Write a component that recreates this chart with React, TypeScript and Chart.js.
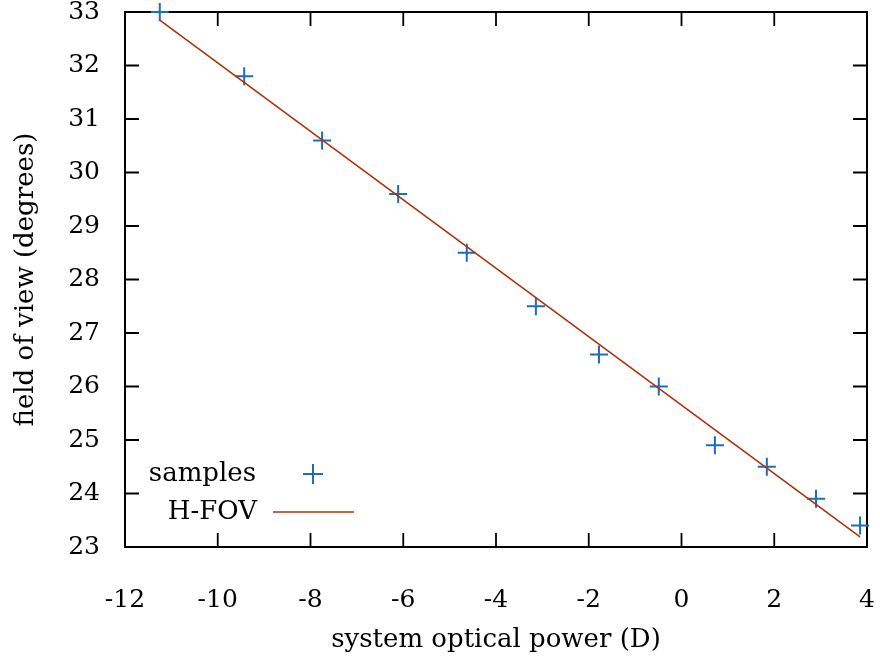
import React, { useEffect, useRef } from "react";
import { Chart, registerables } from "chart.js";

Chart.register(...registerables);

// ---- data ----
const sampleX = [-11.25, -9.43, -7.75, -6.11, -4.63, -3.14, -1.78, -0.49, 0.72, 1.84, 2.9, 3.85];
const sampleY = [33.0, 31.8, 30.6, 29.6, 28.5, 27.5, 26.6, 26.0, 24.9, 24.5, 23.9, 23.4];
const fitX = [-11.25, 3.85];
const fitY = [32.85, 23.19];
const seriesNames = ["samples", "H-FOV"];
const xTitle = "system optical power (D)";
const yTitle = "field of view (degrees)";
const xMin = -12;
const xMax = 4;
const xStep = 2;
const yMin = 23;
const yMax = 33;
const yStep = 1;

const FONT = "'DejaVu Serif', serif";
const FS = 25;
const TFS = 26;
const BLUE = "#1f6cb8";
const RED = "#b0300c";

const framePlugin = {
  id: "frame",
  beforeDatasetsDraw(chart: any) {
    const { ctx, chartArea: a, scales } = chart;
    ctx.save();
    ctx.strokeStyle = "#000";
    ctx.lineWidth = 1.8;
    const tl = 14;
    ctx.beginPath();
    scales.x.ticks.forEach((t: any) => {
      const px = scales.x.getPixelForValue(t.value);
      ctx.moveTo(px, a.bottom);
      ctx.lineTo(px, a.bottom - tl);
      ctx.moveTo(px, a.top);
      ctx.lineTo(px, a.top + tl);
    });
    scales.y.ticks.forEach((t: any) => {
      const py = scales.y.getPixelForValue(t.value);
      ctx.moveTo(a.left, py);
      ctx.lineTo(a.left + tl, py);
      ctx.moveTo(a.right, py);
      ctx.lineTo(a.right - tl, py);
    });
    ctx.stroke();
    ctx.lineWidth = 2;
    ctx.strokeRect(a.left, a.top, a.right - a.left, a.bottom - a.top);
    ctx.restore();
  },
};

const legendPlugin = {
  id: "insideLegend",
  afterDraw(chart: any) {
    const { ctx } = chart;
    const ds = chart.data.datasets;
    ctx.save();
    ctx.font = `${TFS}px ${FONT}`;
    ctx.fillStyle = "#000";
    ctx.textAlign = "right";
    ctx.textBaseline = "middle";
    // samples
    ctx.fillText(ds[0].label, 256, 474);
    ctx.strokeStyle = ds[0].borderColor;
    ctx.lineWidth = 2;
    ctx.beginPath();
    ctx.moveTo(303, 474);
    ctx.lineTo(323, 474);
    ctx.moveTo(313, 464);
    ctx.lineTo(313, 484);
    ctx.stroke();
    // H-FOV
    ctx.fillText(ds[1].label, 257, 512);
    ctx.strokeStyle = ds[1].borderColor;
    ctx.lineWidth = 1.6;
    ctx.beginPath();
    ctx.moveTo(273, 512);
    ctx.lineTo(354, 512);
    ctx.stroke();
    ctx.restore();
  },
};

export default function App() {
  const ref = useRef<HTMLCanvasElement>(null);
  useEffect(() => {
    if (!ref.current) return;
    const chart = new Chart(ref.current, {
      type: "scatter",
      data: {
        datasets: [
          {
            label: seriesNames[0],
            data: sampleX.map((x, i) => ({ x, y: sampleY[i] })),
            pointStyle: "cross",
            pointRadius: 9,
            pointBorderWidth: 2,
            borderColor: BLUE,
            backgroundColor: BLUE,
            showLine: false,
            clip: false as any,
            order: 2,
          },
          {
            label: seriesNames[1],
            data: fitX.map((x, i) => ({ x, y: fitY[i] })),
            showLine: true,
            pointRadius: 0,
            borderColor: RED,
            borderWidth: 1.6,
            backgroundColor: RED,
            clip: false as any,
            order: 1,
          },
        ],
      },
      options: {
        responsive: false,
        animation: false,
        layout: { padding: { left: 0, top: 12, right: 13, bottom: 0 } },
        plugins: { legend: { display: false }, tooltip: { enabled: false } },
        scales: {
          x: {
            type: "linear",
            min: xMin,
            max: xMax,
            grid: { display: false },
            border: { display: false },
            ticks: {
              stepSize: xStep,
              padding: 30,
              color: "#000",
              font: { family: FONT, size: FS },
              maxRotation: 0,
            },
            title: {
              display: true,
              text: xTitle,
              color: "#000",
              font: { family: FONT, size: TFS },
              padding: { top: 0, bottom: 6 },
            },
            afterFit(s: any) {
              s.height = 115;
              s.paddingLeft = 0;
              s.paddingRight = 0;
            },
          },
          y: {
            type: "linear",
            min: yMin,
            max: yMax,
            grid: { display: false },
            border: { display: false },
            ticks: {
              stepSize: yStep,
              padding: 17,
              color: "#000",
              font: { family: FONT, size: FS },
            },
            title: {
              display: true,
              text: yTitle,
              color: "#000",
              font: { family: FONT, size: TFS },
              padding: { top: 11, bottom: 0 },
            },
            afterFit(s: any) {
              s.width = 125;
              s.paddingTop = 0;
              s.paddingBottom = 0;
            },
          },
        },
      },
      plugins: [framePlugin, legendPlugin],
    });
    return () => chart.destroy();
  }, []);
  return (
    <div style={{ position: "fixed", left: 0, top: 0, width: 880, height: 662, background: "#fff" }}>
      <canvas ref={ref} width={880} height={662} style={{ display: "block" }} />
    </div>
  );
}
